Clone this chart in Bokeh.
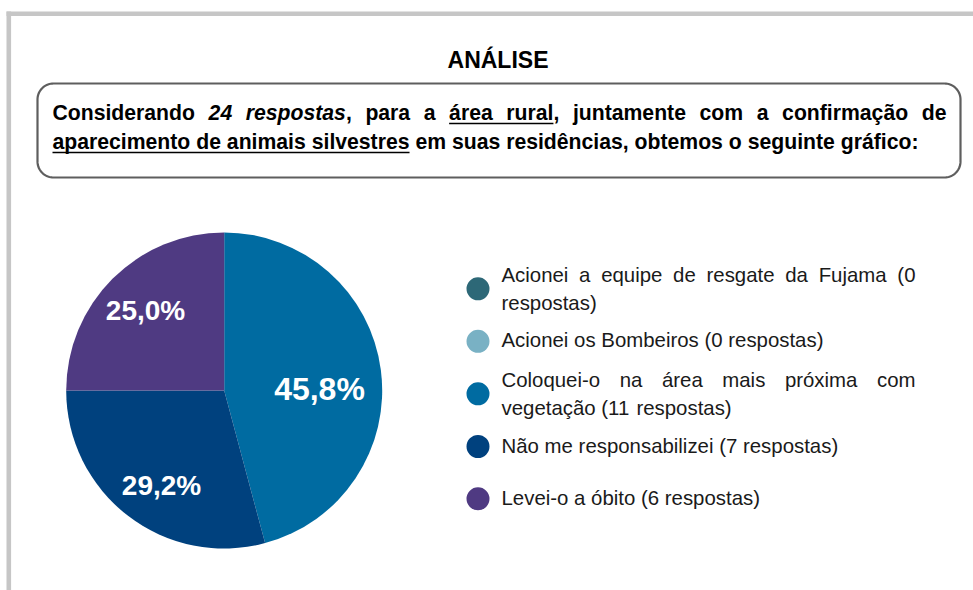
import math
from bokeh.plotting import figure
from bokeh.models import Range1d, ColumnDataSource
from bokeh.core.properties import value
from bokeh.embed import file_html
from bokeh.resources import INLINE

# ---------------- data ----------------
title = "ANÁLISE"
categories = [
    "Acionei a equipe de resgate da Fujama",
    "Acionei os Bombeiros",
    "Coloquei-o na área mais próxima com vegetação",
    "Não me responsabilizei",
    "Levei-o a óbito",
]
counts = [0, 0, 11, 7, 6]
colors = ["#2D6877", "#79B1C4", "#006BA1", "#00417E", "#4F3A82"]
unit = "respostas"

# paragraph: words made of runs (text, style, underlined)
paragraph = [
    [("Considerando", "bold", False)],
    [("24", "bold italic", False)],
    [("respostas", "bold italic", False), (",", "bold", False)],
    [("para", "bold", False)],
    [("a", "bold", False)],
    [("área", "bold", True)],
    [("rural", "bold", True), (",", "bold", False)],
    [("juntamente", "bold", False)],
    [("com", "bold", False)],
    [("a", "bold", False)],
    [("confirmação", "bold", False)],
    [("de", "bold", False)],
    [("aparecimento", "bold", True)],
    [("de", "bold", True)],
    [("animais", "bold", True)],
    [("silvestres", "bold", True)],
    [("em", "bold", False)],
    [("suas", "bold", False)],
    [("residências,", "bold", False)],
    [("obtemos", "bold", False)],
    [("o", "bold", False)],
    [("seguinte", "bold", False)],
    [("gráfico:", "bold", False)],
]

# ---------------- font metrics (Arial / Liberation Sans, per 1000 em) ----------------
BOLD = {' ': 278, ',': 278, ':': 333, '-': 333, '(': 333, ')': 333, '%': 889, '.': 278,
        'A': 722, 'C': 722, 'E': 667, 'I': 278, 'L': 611, 'N': 722, 'S': 667,
        'a': 556, 'b': 611, 'c': 556, 'd': 611, 'e': 556, 'f': 333, 'g': 611, 'h': 611,
        'i': 278, 'j': 278, 'l': 278, 'm': 889, 'n': 611, 'o': 611, 'p': 611, 'r': 389,
        's': 556, 't': 333, 'u': 611, 'v': 556, 'á': 556, 'ã': 556, 'ç': 556, 'ê': 556,
        'Á': 722}
REG = {' ': 278, ',': 278, '-': 333, '(': 333, ')': 333, '%': 889,
       'A': 667, 'B': 667, 'C': 722, 'F': 611, 'L': 556, 'N': 722,
       'a': 556, 'b': 556, 'c': 500, 'd': 556, 'e': 556, 'f': 278, 'g': 556, 'h': 556,
       'i': 222, 'j': 222, 'l': 222, 'm': 833, 'n': 556, 'o': 556, 'p': 556, 'q': 556,
       'r': 333, 's': 500, 't': 278, 'u': 556, 'v': 500, 'x': 500, 'z': 500,
       'á': 556, 'ã': 556, 'ç': 500, 'ó': 556}


def tw(s, table, fs):
    return sum(table.get(ch, 556) for ch in s) * fs / 1000.0


def wrap(words, widths, space, maxw):
    lines, cur, curw = [], [], 0.0
    for i, w in enumerate(widths):
        add = w if not cur else curw + space + w
        if cur and add > maxw:
            lines.append(cur)
            cur, curw = [i], w
        else:
            cur.append(i)
            curw = add
    if cur:
        lines.append(cur)
    return lines


FONT = value("Liberation Sans")
TY = -8  # vertical correction for text baselines

W, H = 973, 590
p = figure(width=W, height=H, x_range=Range1d(0, W), y_range=Range1d(H, 0),
           output_backend="svg", toolbar_location=None, min_border=0)
p.axis.visible = False
p.grid.visible = False
p.outline_line_color = None
p.background_fill_color = "white"
p.border_fill_color = "white"

# frame (gray)
p.quad(left=[6, 6], right=[W, 10.6], top=[11, 11], bottom=[15.6, H],
       fill_color="#C6C6C6", line_color=None)

# title
p.text(x=[497.5], y=[67 + TY], text=[title], text_font=FONT, text_font_style="bold",
       text_font_size="23px", text_align="center", text_baseline="alphabetic",
       text_color="#000000")

# rounded box
bx0, bx1, by0, by1, rr = 37, 960, 83, 177, 16
xs, ys = [], []
for cx, cy, a0 in [(bx1 - rr, by0 + rr, -90), (bx1 - rr, by1 - rr, 0),
                   (bx0 + rr, by1 - rr, 90), (bx0 + rr, by0 + rr, 180)]:
    for k in range(0, 91, 5):
        a = math.radians(a0 + k)
        xs.append(cx + rr * math.cos(a))
        ys.append(cy + rr * math.sin(a))
xs.append(xs[0]); ys.append(ys[0])
p.line(xs, ys, line_color="#5E5E5E", line_width=2.2)

# paragraph layout (justified)
PFS = 21.2
px0, px1 = 52, 946
pbase, plead = 120, 29
wwidths = [sum(tw(r[0], BOLD, PFS) for r in w) for w in paragraph]
space = tw(" ", BOLD, PFS)
plines = wrap(paragraph, wwidths, space, px1 - px0)
runs = {"bold": ([], [], []), "bold italic": ([], [], [])}
ul = ([], [], [])
for li, line in enumerate(plines):
    yb = pbase + li * plead
    tot = sum(wwidths[i] for i in line)
    if li < len(plines) - 1 and len(line) > 1:
        gap = (px1 - px0 - tot) / (len(line) - 1)
    else:
        gap = space
    x = px0
    seg_start = None
    prev_end = None
    for wi in line:
        for (t, st, u) in paragraph[wi]:
            w = tw(t, BOLD, PFS)
            runs[st][0].append(x); runs[st][1].append(yb + TY); runs[st][2].append(t)
            if u:
                if seg_start is None:
                    seg_start = x
                prev_end = x + w
            else:
                if seg_start is not None:
                    ul[0].append(seg_start); ul[1].append(prev_end); ul[2].append(yb + 3)
                    seg_start = None
            x += w
        x += gap
    if seg_start is not None:
        ul[0].append(seg_start); ul[1].append(prev_end); ul[2].append(yb + 3)
for st, (rx, ry, rt) in runs.items():
    p.text(x=rx, y=ry, text=rt, text_font=FONT, text_font_style=st,
           text_font_size=f"{PFS}px", text_align="left", text_baseline="alphabetic",
           text_color="#000000")
p.segment(x0=ul[0], x1=ul[1], y0=ul[2], y1=ul[2], line_color="#000000", line_width=1.6)

# pie
total = sum(counts)
cx, cy, R = 223.7, 390, 158
starts, ends, fills = [], [], []
cum = 0
for n, c in zip(counts, colors):
    if n > 0:
        starts.append(math.radians(90 - cum / total * 360))
        ends.append(math.radians(90 - (cum + n) / total * 360))
        fills.append(c)
    cum += n
src = ColumnDataSource(dict(s=starts, e=ends, c=fills))
p.wedge(x=cx, y=cy, radius=R, start_angle="s", end_angle="e", direction="clock",
        fill_color="c", line_color=None, source=src)

# percentage labels (layout positions per non-empty slice)
label_pos = [(319, 396, 32), (161, 493, 28), (145, 318, 28)]
nz = [n for n in counts if n > 0]
for (lx, ly, fs), n in zip(label_pos, nz):
    txt = f"{n / total * 100:.1f}".replace(".", ",") + "%"
    p.text(x=[lx], y=[ly + TY], text=[txt], text_font=FONT, text_font_style="bold",
           text_font_size=f"{fs}px", text_align="center", text_baseline="alphabetic",
           text_color="#FFFFFF")

# legend
LFS = 20.4
lx0, lx1 = 501, 915
circle_x = 477.5
circle_y = [288.3, 340.8, 393.3, 446, 498.3]
llead = 28
p.scatter(x=[circle_x] * len(categories), y=circle_y, size=23, marker="circle",
          fill_color=colors, line_color=None)
lt_x, lt_y, lt_t = [], [], []
for cat, n, cyy in zip(categories, counts, circle_y):
    label = f"{cat} ({n} {unit})"
    words = label.split(" ")
    ws = [tw(w, REG, LFS) for w in words]
    sp = tw(" ", REG, LFS)
    lines = wrap(words, ws, sp, lx1 - lx0)
    b0 = cyy + 7 - (len(lines) - 1) * 12.5
    for li, line in enumerate(lines):
        yb = b0 + li * llead
        tot = sum(ws[i] for i in line)
        gap = (lx1 - lx0 - tot) / (len(line) - 1) if (li < len(lines) - 1 and len(line) > 1) else sp
        x = lx0
        for wi in line:
            lt_x.append(x); lt_y.append(yb + TY); lt_t.append(words[wi])
            x += ws[wi] + gap
p.text(x=lt_x, y=lt_y, text=lt_t, text_font=FONT, text_font_size=f"{LFS}px",
       text_align="left", text_baseline="alphabetic", text_color="#1A1A1A")

open("out.html", "w").write(file_html(p, INLINE))
